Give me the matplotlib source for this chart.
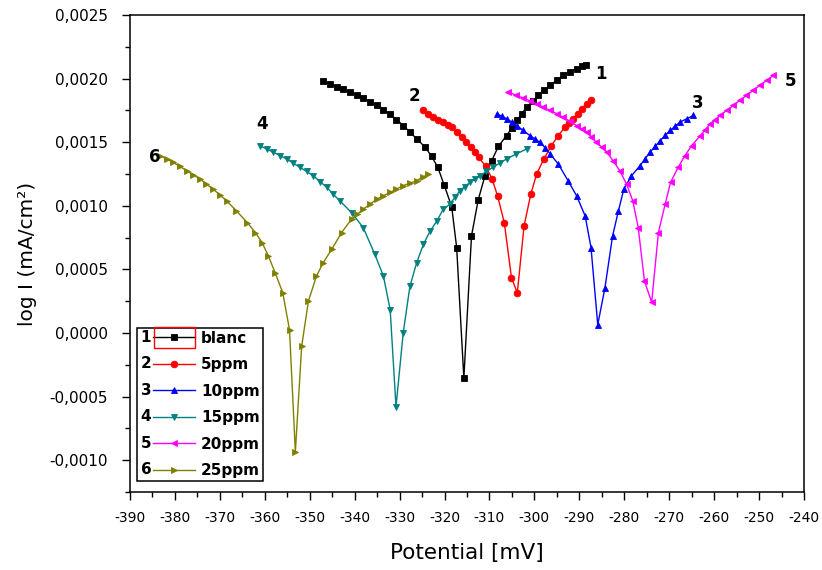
import matplotlib
matplotlib.use("Agg")
import matplotlib.pyplot as plt
from matplotlib.ticker import MultipleLocator, FuncFormatter
from matplotlib.legend_handler import HandlerLine2D
from matplotlib.text import Text
from matplotlib.patches import Rectangle

plt.rcParams["font.family"] = ["DejaVu Sans"]
plt.rcParams["axes.unicode_minus"] = False

# Polarisation curves: potential (mV) vs log I (mA/cm²)
labels = ["blanc", "5ppm", "10ppm", "15ppm", "20ppm", "25ppm"]
numbers = ["1", "2", "3", "4", "5", "6"]
colors = ["#000000", "#ff0000", "#0000ff", "#008080", "#ff00ff", "#808000"]
markers = ["s", "o", "^", "v", "<", ">"]

blanc_E = [-347.0, -345.5, -344.0, -342.5, -341.0, -339.5, -338.1, -336.6, -335.1, -333.6,
           -332.1, -330.7, -329.2, -327.7, -326.2, -324.3, -322.9, -321.5, -320.1, -318.4,
           -317.3, -315.7, -314.0, -312.5, -311.0, -309.5, -308.0, -306.2, -305.0, -303.9,
           -302.8, -301.7, -300.4, -299.1, -297.8, -296.5, -295.0, -293.6, -292.1, -290.6,
           -289.5, -288.5]
blanc_I = [0.001978, 0.001958, 0.001937, 0.001915, 0.001893, 0.001870, 0.001847, 0.001818,
           0.001789, 0.001757, 0.001720, 0.001678, 0.001631, 0.001580, 0.001526, 0.001461,
           0.001390, 0.001303, 0.001165, 0.000992, 0.000671, -0.000355, 0.000763, 0.001047,
           0.001236, 0.001355, 0.001468, 0.001552, 0.001612, 0.001671, 0.001725, 0.001776,
           0.001823, 0.001868, 0.001908, 0.001947, 0.001988, 0.002026, 0.002055, 0.002079,
           0.002097, 0.002110]

ppm5_E = [-324.9, -323.7, -322.5, -321.4, -320.3, -319.3, -318.4, -317.3, -316.2, -315.2,
          -314.2, -313.3, -312.4, -310.8, -309.4, -308.2, -306.7, -305.1, -303.8, -302.3,
          -300.8, -299.5, -297.9, -296.2, -294.7, -293.2, -292.2, -291.3, -290.4, -289.5,
          -288.4, -287.3]
ppm5_I = [0.001750, 0.001724, 0.001697, 0.001678, 0.001658, 0.001638, 0.001618, 0.001580,
          0.001540, 0.001500, 0.001460, 0.001420, 0.001380, 0.001310, 0.001210, 0.001078,
          0.000868, 0.000434, 0.000316, 0.000842, 0.001092, 0.001250, 0.001368, 0.001473,
          0.001552, 0.001618, 0.001651, 0.001684, 0.001724, 0.001763, 0.001800, 0.001834]

ppm10_E = [-308.4, -307.3, -306.2, -305.0, -303.9, -302.5, -301.0, -299.9, -298.8, -297.6,
           -296.5, -294.7, -292.5, -290.6, -288.7, -287.4, -285.9, -284.3, -282.6, -281.3,
           -280.1, -278.4, -276.5, -275.4, -274.3, -273.1, -272.0, -270.9, -269.8, -268.7,
           -267.6, -266.1, -264.6]
ppm10_I = [0.001724, 0.001705, 0.001684, 0.001658, 0.001631, 0.001592, 0.001552, 0.001526,
           0.001500, 0.001456, 0.001408, 0.001329, 0.001197, 0.001078, 0.000920, 0.000671,
           0.0000655, 0.000355, 0.000763, 0.000960, 0.001131, 0.001236, 0.001315, 0.001368,
           0.001421, 0.001467, 0.001513, 0.001553, 0.001592, 0.001625, 0.001658, 0.001684,
           0.001710]

ppm15_E = [-361.1, -359.6, -358.1, -356.6, -355.1, -353.7, -352.2, -350.7, -349.2, -347.7,
           -346.2, -344.8, -343.3, -340.7, -338.1, -335.5, -333.6, -332.1, -330.8, -329.2,
           -327.7, -326.2, -324.7, -323.2, -321.7, -320.3, -318.8, -317.7, -316.6, -315.5,
           -314.3, -313.2, -312.1, -310.7, -309.2, -307.7, -306.2, -304.0, -301.7]
ppm15_I = [0.001473, 0.001447, 0.001421, 0.001395, 0.001368, 0.001336, 0.001303, 0.001270,
           0.001236, 0.001190, 0.001145, 0.001092, 0.001039, 0.000947, 0.000829, 0.000618,
           0.000447, 0.000184, -0.000580, 0.0, 0.000368, 0.000553, 0.000697, 0.000802,
           0.000881, 0.000973, 0.001013, 0.001066, 0.001118, 0.001151, 0.001184, 0.001210,
           0.001236, 0.001270, 0.001303, 0.001336, 0.001368, 0.001408, 0.001447]

ppm20_E = [-305.8, -304.2, -302.5, -301.0, -299.5, -298.0, -296.5, -295.0, -293.6, -292.1,
           -290.6, -289.5, -288.4, -287.3, -286.2, -285.0, -283.9, -282.5, -281.0, -279.5,
           -278.1, -276.9, -275.5, -273.9, -272.4, -270.9, -269.7, -268.0, -266.5, -265.0,
           -263.1, -262.0, -260.9, -259.8, -258.7, -257.2, -255.7, -254.3, -252.8, -251.3,
           -249.8, -248.3, -246.8]
ppm20_I = [0.001895, 0.001871, 0.001847, 0.001825, 0.001802, 0.001776, 0.001750, 0.001724,
           0.001697, 0.001664, 0.001631, 0.001605, 0.001579, 0.001540, 0.001500, 0.001460,
           0.001421, 0.001355, 0.001276, 0.001171, 0.001039, 0.000829, 0.000408, 0.000242,
           0.000790, 0.001013, 0.001184, 0.001303, 0.001394, 0.001473, 0.001552, 0.001598,
           0.001645, 0.001678, 0.001710, 0.001750, 0.001789, 0.001829, 0.001868, 0.001908,
           0.001947, 0.001987, 0.002026]

ppm25_E = [-383.3, -381.8, -380.4, -378.9, -377.4, -375.9, -374.4, -373.0, -371.5, -370.0,
           -368.5, -366.3, -363.9, -362.1, -360.6, -359.2, -357.7, -356.0, -354.5, -353.2,
           -351.8, -350.3, -348.5, -347.0, -345.1, -342.9, -340.7, -339.4, -338.1, -336.6,
           -335.1, -333.6, -332.1, -330.7, -329.2, -327.7, -326.2, -324.9, -323.6]
ppm25_I = [0.001394, 0.001368, 0.001342, 0.001309, 0.001276, 0.001243, 0.001210, 0.001171,
           0.001131, 0.001085, 0.001039, 0.000960, 0.000868, 0.000790, 0.000711, 0.000605,
           0.000474, 0.000316, 0.000026, -0.000935, -0.000106, 0.000250, 0.000447, 0.000553,
           0.000658, 0.000790, 0.000895, 0.000934, 0.000973, 0.001013, 0.001052, 0.001079,
           0.001105, 0.001132, 0.001158, 0.001178, 0.001197, 0.001224, 0.001250]

series_E = [blanc_E, ppm5_E, ppm10_E, ppm15_E, ppm20_E, ppm25_E]
series_I = [blanc_I, ppm5_I, ppm10_I, ppm15_I, ppm20_I, ppm25_I]

# curve tags placed next to each curve end
tag_pos = [(-285.2, 0.00204), (-326.8, 0.00186), (-263.6, 0.00181),
           (-360.5, 0.00164), (-243.1, 0.00198), (-384.6, 0.00138)]


class NumberedHandler(HandlerLine2D):
    """Legend handle with a leading curve number (and optional frame)."""

    def __init__(self, num, framed=False, **kw):
        super().__init__(**kw)
        self.num = num
        self.framed = framed

    def create_artists(self, legend, orig_handle, xdescent, ydescent,
                       width, height, fontsize, trans):
        numw = width * 0.24
        arts = super().create_artists(legend, orig_handle, xdescent - numw,
                                      ydescent, width - numw, height,
                                      fontsize, trans)
        ymid = -ydescent + height / 2
        t = Text(x=-xdescent + numw * 0.45, y=ymid,
                 text=self.num, ha="center", va="center", fontsize=fontsize,
                 fontweight="bold", color="black")
        t.set_transform(trans)
        out = [t] + list(arts)
        if self.framed:
            h = fontsize * 1.35
            r = Rectangle((-xdescent + numw + 0.5, ymid - h / 2),
                          width - numw - 0.5, h, fill=False,
                          edgecolor="#ff0000", lw=1.0)
            r.set_transform(trans)
            out.append(r)
        return out


fig = plt.figure(figsize=(8.22, 5.70), dpi=100)
ax = fig.add_axes([130 / 822, 1 - 492 / 570, 674 / 822, 477 / 570])

lines = []
for E, I, c, m, lab in zip(series_E, series_I, colors, markers, labels):
    ln, = ax.plot(E, I, color=c, marker=m, markersize=4.8, lw=1.0,
                  markeredgewidth=0.6, markeredgecolor=c, label=lab)
    lines.append(ln)

for (x, y), n in zip(tag_pos, numbers):
    ax.text(x, y, n, fontsize=12, fontweight="bold", ha="center", va="center")

ax.set_xlim(-390, -240)
ax.set_ylim(-0.00125, 0.0025)
ax.xaxis.set_major_locator(MultipleLocator(10))
ax.xaxis.set_minor_locator(MultipleLocator(5))
ax.yaxis.set_major_locator(MultipleLocator(0.0005))
ax.yaxis.set_minor_locator(MultipleLocator(0.00025))
ax.yaxis.set_major_formatter(FuncFormatter(lambda v, p: f"{v:.4f}".replace(".", ",").replace("-0,0000", "0,0000")))
ax.xaxis.set_major_formatter(FuncFormatter(lambda v, p: f"{v:.0f}"))

ax.tick_params(axis="both", which="major", direction="out", length=6, width=1)
ax.tick_params(axis="both", which="minor", direction="out", length=3.5, width=1)
ax.tick_params(axis="x", which="major", labelsize=10, pad=8)
ax.tick_params(axis="y", which="major", labelsize=11, pad=10)
ax.tick_params(top=False, right=False, which="both")
for s in ax.spines.values():
    s.set_linewidth(1.1)

ax.set_xlabel("Potential [mV]", fontsize=15.5, labelpad=13)
ax.set_ylabel("log I (mA/cm²)", fontsize=14.5, labelpad=9)

handler_map = {ln: NumberedHandler(n, framed=(i == 0), numpoints=1)
               for i, (ln, n) in enumerate(zip(lines, numbers))}
leg = ax.legend(handles=lines, labels=labels, handler_map=handler_map,
                loc="lower left", bbox_to_anchor=(0.0104, 0.023),
                borderaxespad=0, frameon=True, fancybox=False, framealpha=1,
                edgecolor="black", handlelength=3.6, handletextpad=0.4,
                labelspacing=0.75, borderpad=0.2,
                prop={"weight": "bold", "size": 11})
leg.get_frame().set_linewidth(1.1)

fig.savefig("out.png", dpi=100)
